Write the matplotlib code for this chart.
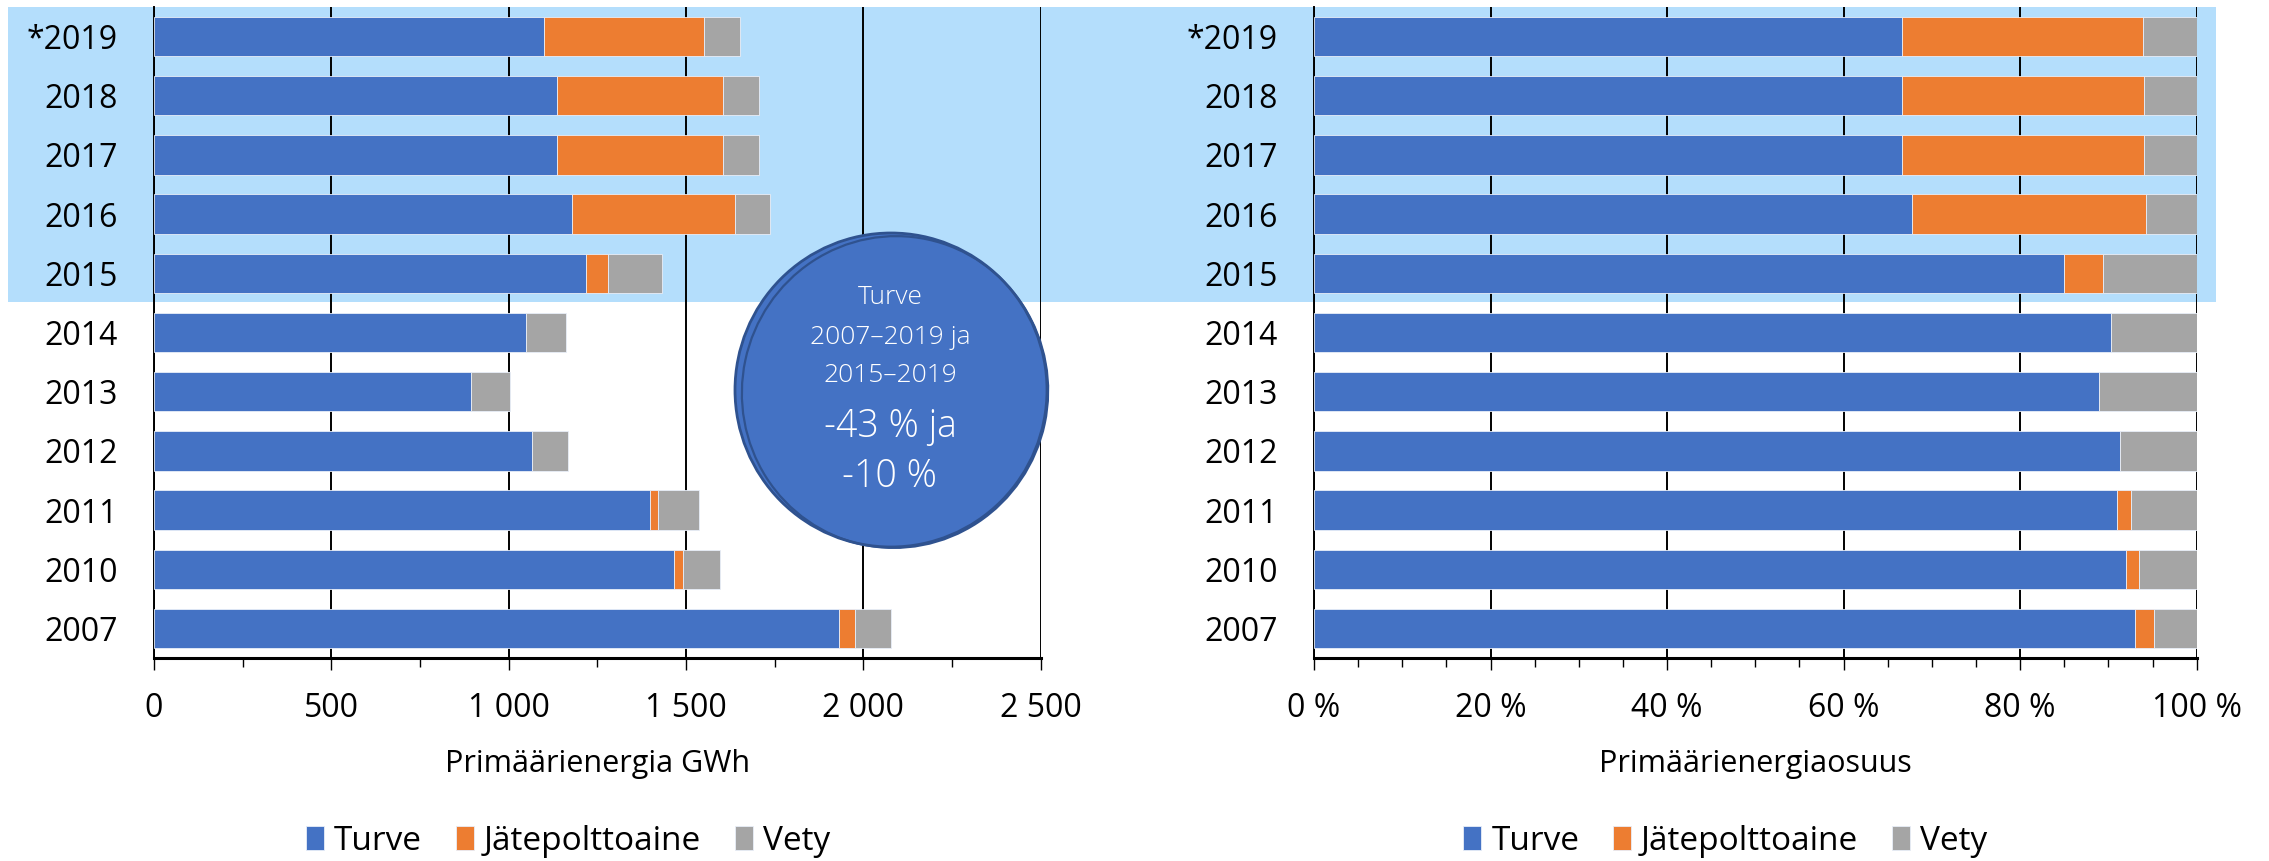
import numpy as np
import matplotlib
matplotlib.use("Agg")
import matplotlib.pyplot as plt
from matplotlib.patches import Rectangle, Ellipse
from matplotlib.ticker import MultipleLocator, FuncFormatter

plt.rcParams['font.family'] = ['Open Sans', 'DejaVu Sans']

# data, bottom row first
years = ["2007", "2010", "2011", "2012", "2013", "2014", "2015", "2016", "2017", "2018", "*2019"]
turve = [1932, 1467, 1398, 1067, 893, 1049, 1217, 1178, 1136, 1136, 1099]
jate = [45, 24, 23, 0, 0, 0, 64, 461, 469, 469, 451]
vety = [100, 104, 115, 101, 111, 113, 152, 99, 101, 101, 101]
series_names = ["Turve", "Jätepolttoaine", "Vety"]
colors = ["#4472C4", "#ED7D31", "#A5A5A5"]

W, H = 2269, 861
fig = plt.figure(figsize=(W / 100, H / 100), dpi=100)

# background band behind the 2015-2019 rows
bg = fig.add_axes([0, 0, 1, 1], zorder=0)
bg.set_xlim(0, W)
bg.set_ylim(H, 0)
bg.axis("off")
bg.add_patch(Rectangle((8, 7), 2208, 295, facecolor="#B4DEFC", edgecolor="none"))

ax1 = fig.add_axes([154 / W, 1 - 658 / H, (1040.7 - 154) / W, 651 / H], zorder=1)
ax2 = fig.add_axes([1314 / W, 1 - 658 / H, (2196.7 - 1314) / W, 651 / H], zorder=1)

data = np.array([turve, jate, vety], dtype=float)
shares = data / data.sum(axis=0) * 100
y = np.arange(len(years))

for ax, vals in ((ax1, data), (ax2, shares)):
    ax.patch.set_alpha(0)
    left = np.zeros(len(years))
    for v, name, c in zip(vals, series_names, colors):
        ax.barh(y, v, left=left, height=0.665, color=c, label=name,
                edgecolor="#E8EEF8", linewidth=0.6, zorder=3)
        left += v
    ax.set_ylim(-0.5, len(years) - 0.5)
    ax.set_yticks(y)
    ax.set_yticklabels(years)
    ax.tick_params(axis="y", length=0, pad=26, labelsize=23)
    ax.tick_params(axis="x", which="major", length=8.6, width=1, pad=16, labelsize=23, direction="out")
    ax.tick_params(axis="x", which="minor", length=6.5, width=1, direction="out")
    ax.grid(axis="x", which="major", color="black", linewidth=1.4, zorder=1)
    ax.set_axisbelow(True)
    for s in ("top", "right"):
        ax.spines[s].set_visible(False)
    ax.spines["left"].set_linewidth(1.4)
    ax.spines["bottom"].set_linewidth(2.2)
    ax.spines["bottom"].set_zorder(4)

ax1.set_xlim(0, 2500)
ax1.xaxis.set_major_locator(MultipleLocator(500))
ax1.xaxis.set_minor_locator(MultipleLocator(250))
ax1.xaxis.set_major_formatter(FuncFormatter(lambda v, p: f"{int(v):,}".replace(",", "\u00a0")))
ax1.set_xlabel("Primäärienergia GWh", fontsize=22, labelpad=17)

ax2.set_xlim(0, 100)
ax2.xaxis.set_major_locator(MultipleLocator(20))
ax2.xaxis.set_minor_locator(MultipleLocator(5))
ax2.xaxis.set_major_formatter(FuncFormatter(lambda v, p: f"{int(v)}\u00a0%"))
ax2.set_xlabel("Primäärienergiaosuus", fontsize=22, labelpad=17)

for ax, cx in ((ax1, 568 / W), (ax2, 1725 / W)):
    h, l = ax.get_legend_handles_labels()
    fig.legend(h, l, loc="center", bbox_to_anchor=(cx, 1 - 841 / H), ncol=3, frameon=False,
               fontsize=24, handlelength=0.55, handleheight=0.75, handletextpad=0.3,
               columnspacing=1.0, borderpad=0)

# callout circle
ov = fig.add_axes([0, 0, 1, 1], zorder=5)
ov.set_xlim(0, W)
ov.set_ylim(H, 0)
ov.axis("off")
ov.add_patch(Ellipse((891, 390), 312, 314, facecolor="#4472C4", edgecolor="#2F528F", linewidth=2))
ov.add_patch(Ellipse((895, 392), 306, 312, angle=12, facecolor="none", edgecolor="#2F528F", linewidth=1.6))
for txt, yy, fs in (("Turve", 298, 19), ("2007–2019 ja", 337, 19), ("2015–2019", 375, 19),
                    ("-43 % ja", 427, 27), ("-10 %", 477, 27)):
    ov.text(890, yy, txt, color="white", fontsize=fs, ha="center", va="center", fontweight="light")

fig.savefig("out.png", dpi=100)
